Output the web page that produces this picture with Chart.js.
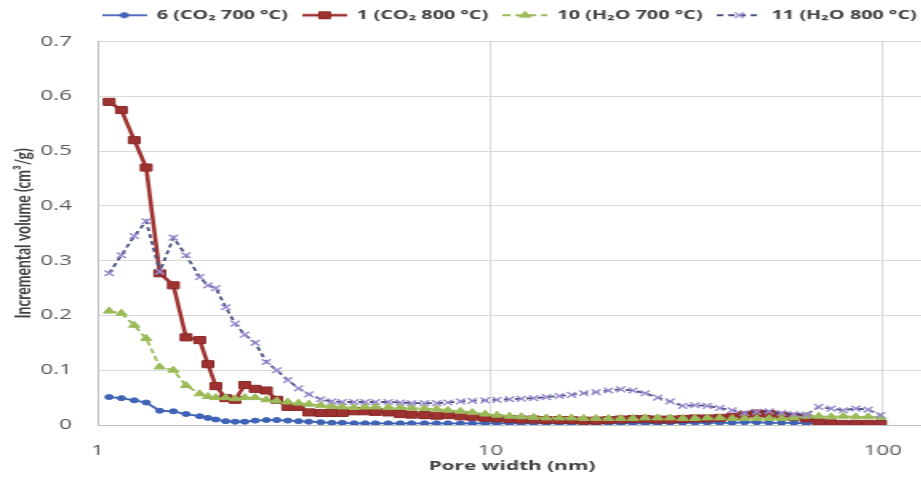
<!DOCTYPE html>
<html><head><meta charset="utf-8">
<script src="https://cdn.jsdelivr.net/npm/chart.js@4"></script>
<style>
html,body{margin:0;padding:0;background:#fff;overflow:hidden;width:921px;height:485px}
#wrap{position:absolute;left:0;top:0;width:649px;height:485px;transform:scaleX(1.6);transform-origin:0 0}
</style></head><body>
<div id="wrap"><canvas id="c" width="649" height="485"></canvas></div>
<script>
// Pore width (nm)
const poreWidth = [1.07, 1.15, 1.24, 1.33, 1.44, 1.56, 1.68, 1.82, 1.91, 2.0,
  2.12, 2.24, 2.37, 2.52, 2.69, 2.86, 3.05, 3.25, 3.45, 3.7,
  3.95, 4.2, 4.5, 4.8, 5.1, 5.5, 5.9, 6.3, 6.8, 7.3,
  7.8, 8.4, 9.0, 9.7, 10.4, 11.2, 12.0, 12.9, 13.9, 15.0,
  16.1, 17.3, 18.6, 20.0, 21.5, 23.1, 24.8, 26.7, 28.7, 30.9,
  33.2, 35.7, 38.4, 41.3, 44.4, 47.7, 51.3, 55.2, 59.3, 63.8,
  68.6, 73.8, 79.3, 85.3, 91.7, 98.6];

// 6 (CO2 700 °C)
const s6 = [0.051, 0.049, 0.045, 0.041, 0.026, 0.025, 0.02, 0.016, 0.013, 0.01,
  0.007, 0.006, 0.006, 0.008, 0.009, 0.009, 0.008, 0.007, 0.006, 0.005,
  0.004, 0.004, 0.003, 0.003, 0.003, 0.003, 0.003, 0.003, 0.003, 0.003,
  0.003, 0.003, 0.003, 0.003, 0.003, 0.003, 0.003, 0.003, 0.003, 0.003,
  0.003, 0.003, 0.003, 0.003, 0.003, 0.003, 0.003, 0.003, 0.004, 0.004,
  0.004, 0.004, 0.004, 0.004, 0.005, 0.005, 0.004, 0.004, 0.004, 0.003,
  0.003, 0.003, 0.002, 0.002, 0.002, 0.002];

// 1 (CO2 800 °C)
const s1 = [0.59, 0.575, 0.52, 0.47, 0.277, 0.255, 0.16, 0.155, 0.111, 0.071,
  0.049, 0.046, 0.073, 0.066, 0.063, 0.046, 0.033, 0.033, 0.023, 0.022,
  0.022, 0.022, 0.025, 0.025, 0.024, 0.023, 0.02, 0.019, 0.018, 0.017,
  0.018, 0.016, 0.015, 0.013, 0.012, 0.011, 0.01, 0.01, 0.009, 0.009,
  0.009, 0.008, 0.008, 0.009, 0.01, 0.011, 0.011, 0.01, 0.01, 0.011,
  0.012, 0.012, 0.013, 0.015, 0.018, 0.021, 0.02, 0.017, 0.015, 0.012,
  0.006, 0.003, 0.002, 0.002, 0.002, 0.002];

// 10 (H2O 700 °C)
const s10 = [0.208, 0.204, 0.182, 0.158, 0.106, 0.1, 0.072, 0.057, 0.052, 0.05,
  0.05, 0.048, 0.05, 0.05, 0.046, 0.044, 0.042, 0.04, 0.038, 0.036,
  0.034, 0.033, 0.032, 0.033, 0.033, 0.032, 0.032, 0.031, 0.03, 0.029,
  0.027, 0.025, 0.023, 0.02, 0.018, 0.016, 0.015, 0.014, 0.013, 0.013,
  0.013, 0.012, 0.012, 0.012, 0.012, 0.012, 0.013, 0.013, 0.013, 0.012,
  0.012, 0.013, 0.013, 0.012, 0.012, 0.012, 0.012, 0.012, 0.013, 0.016,
  0.016, 0.015, 0.016, 0.015, 0.015, 0.014];

// 11 (H2O 800 °C)
const s11 = [0.277, 0.31, 0.345, 0.372, 0.28, 0.342, 0.31, 0.27, 0.255, 0.25,
  0.215, 0.185, 0.165, 0.15, 0.115, 0.1, 0.082, 0.067, 0.056, 0.047,
  0.043, 0.042, 0.042, 0.042, 0.042, 0.042, 0.041, 0.04, 0.04, 0.04,
  0.041, 0.043, 0.044, 0.045, 0.046, 0.047, 0.048, 0.049, 0.051, 0.053,
  0.055, 0.058, 0.06, 0.063, 0.065, 0.063, 0.058, 0.05, 0.043, 0.035,
  0.036, 0.035, 0.031, 0.027, 0.022, 0.024, 0.025, 0.022, 0.02, 0.019,
  0.033, 0.03, 0.027, 0.03, 0.028, 0.018];

const seriesNames = ['6 (CO\u2082 700 \u00B0C)', '1 (CO\u2082 800 \u00B0C)', '10 (H\u2082O 700 \u00B0C)', '11 (H\u2082O 800 \u00B0C)'];
const yTicks = [0, 0.1, 0.2, 0.3, 0.4, 0.5, 0.6, 0.7];
const xTicks = [1, 10, 100];

const FONT = "'Open Sans', 'DejaVu Sans', sans-serif";
const styles = [
  {line:'#3F63B5', dash:[], lw:1.8, ps:'circle', r:2.5, fill:'#3F63B5', stroke:'#3F63B5', bw:1},
  {line:'#9E3230', dash:[], lw:2.6, ps:'rect', r:5, fill:'#9E3230', stroke:'#8A2A28', bw:1},
  {line:'#9BBB59', dash:[5,3], lw:1.8, ps:'triangle', r:4, fill:'#9BBB59', stroke:'#9BBB59', bw:1},
  {line:'#4A5282', dash:[4,3], lw:1.8, ps:'crossRot', r:4, fill:'#9A8BD0', stroke:'#9A8BD0', bw:1.4}
];
const seriesData = [s6, s1, s10, s11];

function icon(st){
  const c = document.createElement('canvas'); c.width = 28; c.height = 12;
  const g = c.getContext('2d');
  g.strokeStyle = st.line; g.lineWidth = st.lw; g.setLineDash(st.dash);
  g.beginPath(); g.moveTo(0, 6); g.lineTo(28, 6); g.stroke();
  g.setLineDash([]);
  g.fillStyle = st.fill; g.strokeStyle = st.stroke; g.lineWidth = st.bw;
  Chart.helpers.drawPoint(g, {pointStyle: st.ps, radius: st.r, rotation: 0, borderWidth: st.bw}, 14, 6);
  return c;
}
const icons = styles.map(icon);

const datasets = seriesData.map((arr, i) => ({
  label: seriesNames[i],
  data: poreWidth.map((x, k) => ({x: x, y: arr[k]})),
  borderColor: styles[i].line,
  borderWidth: styles[i].lw,
  borderDash: styles[i].dash,
  backgroundColor: styles[i].fill,
  pointStyle: styles[i].ps,
  pointRadius: styles[i].r,
  pointBackgroundColor: styles[i].fill,
  pointBorderColor: styles[i].stroke,
  pointBorderWidth: styles[i].bw,
  tension: 0,
  order: 4 - i
}));

// shift the legend block slightly to the right, as in the (cropped) reference
const legendShift = {
  id: 'legendShift',
  afterLayout(chart) {
    if (chart.legend) { chart.legend.left += 3; chart.legend.right += 3; }
  }
};

new Chart(document.getElementById('c'), {
  type: 'line',
  data: {datasets},
  plugins: [legendShift],
  options: {
    responsive: false,
    animation: false,
    devicePixelRatio: 1,
    layout: {padding: {top: 0, right: 70, left: 0, bottom: 0}},
    plugins: {
      tooltip: {enabled: false},
      subtitle: {display: true, text: ' ', weight: 500, font: {size: 1}, padding: {top: 0, bottom: 9}},
      legend: {
        position: 'top',
        align: 'end',
        labels: {
          usePointStyle: true,
          pointStyleWidth: 28,
          padding: 9,
          color: '#404040',
          font: {family: FONT, size: 12.4, weight: 'bold'},
          sort: (a, b) => a.datasetIndex - b.datasetIndex,
          generateLabels(chart) {
            const items = Chart.defaults.plugins.legend.labels.generateLabels(chart);
            items.forEach(it => { it.pointStyle = icons[it.datasetIndex]; });
            return items;
          }
        }
      }
    },
    scales: {
      x: {
        type: 'logarithmic', min: 1, max: 129,
        afterBuildTicks: s => { s.ticks = xTicks.map(v => ({value: v})); },
        afterFit: s => { s.height = 60; },
        ticks: {callback: v => String(v), autoSkip: false, maxRotation: 0, padding: 18,
                color: '#595959', font: {family: FONT, size: 14}},
        grid: {color: '#D9D9D9', drawTicks: false},
        border: {color: '#BFBFBF'},
        title: {display: true, text: 'Pore width (nm)', color: '#404040',
                font: {family: FONT, size: 13, weight: 'bold'}, padding: {top: 0, bottom: 11}}
      },
      y: {
        min: 0, max: 0.7,
        afterBuildTicks: s => { s.ticks = yTicks.map(v => ({value: v})); },
        afterFit: s => { s.width = 61; },
        ticks: {callback: v => String(v), padding: 16, color: '#595959', font: {family: FONT, size: 14}},
        grid: {color: '#D9D9D9', drawTicks: false},
        border: {color: '#BFBFBF'},
        title: {display: true, text: 'Incremental volume (cm\u00B3/g)', color: '#404040',
                font: {family: "Lato, 'Open Sans', sans-serif", size: 14, weight: 'bold'}, padding: {top: 6, bottom: 0}}
      }
    }
  }
});
</script>
</body></html>
